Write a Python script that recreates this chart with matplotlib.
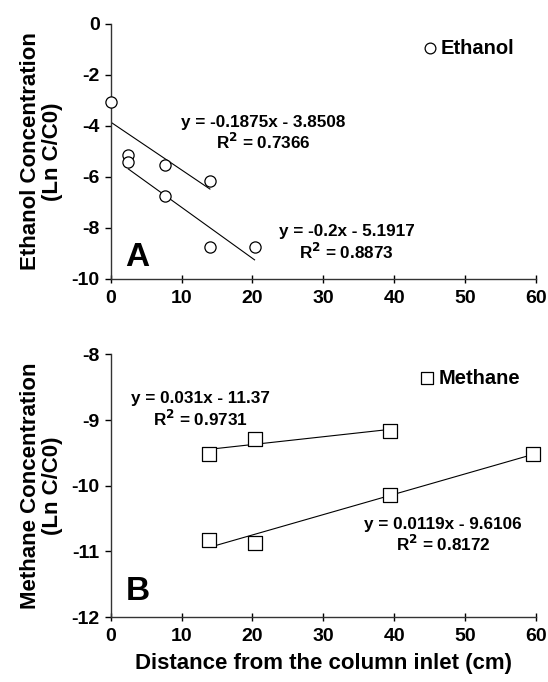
import numpy as np
import matplotlib.pyplot as plt

plt.rcParams['font.family'] = ['Liberation Sans', 'DejaVu Sans']
plt.rcParams['font.weight'] = 'bold'
plt.rcParams['axes.unicode_minus'] = False

# Ethanol data (distance cm, Ln C/C0)
eth_x = [0, 2.5, 2.5, 7.6, 14.0, 7.6, 14.0, 20.3]
eth_y = [-3.05, -5.14, -5.41, -5.52, -6.16, -6.74, -8.73, -8.76]
# Ethanol fits: slope, intercept, x range
eth_slope = [-0.1875, -0.2]
eth_icpt = [-3.8508, -5.1917]
eth_xrange = [(0, 14.0), (2.5, 20.3)]
eth_labels = ["y = -0.1875x - 3.8508\nR$^2$ = 0.7366", "y = -0.2x - 5.1917\nR$^2$ = 0.8873"]

# Methane data
met_x = [13.9, 20.3, 39.4, 13.9, 20.3, 39.4, 59.6]
met_y = [-9.51, -9.29, -9.16, -10.82, -10.88, -10.14, -9.51]
met_slope = [0.0119, 0.031]
met_icpt = [-9.6106, -11.37]
met_xrange = [(13.9, 39.4), (13.9, 59.6)]
met_labels = ["y = 0.031x - 11.37\nR$^2$ = 0.9731", "y = 0.0119x - 9.6106\nR$^2$ = 0.8172"]

fig = plt.figure(figsize=(5.48, 6.82), dpi=100)
ax1 = fig.add_axes([0.202, 0.591, 0.776, 0.374])
ax2 = fig.add_axes([0.202, 0.0953, 0.776, 0.385])

EQ_SIZE = 12.3
LAB_SIZE = 16


def style(ax, ylim, yticks):
    ax.set_xlim(0, 60)
    ax.set_ylim(*ylim)
    ax.set_xticks(range(0, 61, 10))
    ax.set_yticks(yticks)
    for s in ['top', 'right']:
        ax.spines[s].set_visible(False)
    for s in ['left', 'bottom']:
        ax.spines[s].set_linewidth(1.0)
        ax.spines[s].set_color('#333333')
    ax.tick_params(axis='x', direction='inout', length=6, width=1, labelsize=14, pad=5)
    ax.tick_params(axis='y', direction='out', length=4, width=1, labelsize=14, pad=4)
    for lab in ax.get_xticklabels() + ax.get_yticklabels():
        lab.set_fontweight('bold')


# Panel A
ax1.scatter(eth_x, eth_y, s=65, facecolors='white', edgecolors='black', linewidths=0.9, zorder=3, clip_on=False)
for m, b, (x0, x1) in zip(eth_slope, eth_icpt, eth_xrange):
    xs = np.array([x0, x1])
    ax1.plot(xs, m * xs + b, color='black', lw=0.8)
style(ax1, (-10, 0), range(-10, 1, 2))
ax1.text(21.5, -4.3, eth_labels[0], ha='center', va='center', fontsize=EQ_SIZE, fontweight='bold', linespacing=1.15)
ax1.text(33.3, -8.6, eth_labels[1], ha='center', va='center', fontsize=EQ_SIZE, fontweight='bold', linespacing=1.15)
ax1.text(2.1, -9.5, 'A', fontsize=24, fontweight='bold', ha='left', va='baseline')
ax1.scatter([45.0], [-0.95], s=60, facecolors='white', edgecolors='black', linewidths=0.9)
ax1.text(46.5, -0.95, 'Ethanol', fontsize=14.5, fontweight='bold', va='center', ha='left')
ax1.set_ylabel('Ethanol Concentration\n(Ln C/C0)', fontsize=LAB_SIZE, fontweight='bold', labelpad=6, linespacing=1.1)

# Panel B
ax2.scatter(met_x, met_y, s=95, marker='s', facecolors='white', edgecolors='black', linewidths=0.9, zorder=3, clip_on=False)
for m, b, (x0, x1) in zip(met_slope, met_icpt, met_xrange):
    xs = np.array([x0, x1])
    ax2.plot(xs, m * xs + b, color='black', lw=0.8)
style(ax2, (-12, -8), range(-12, -7, 1))
ax2.text(12.6, -8.85, met_labels[0], ha='center', va='center', fontsize=EQ_SIZE, fontweight='bold', linespacing=1.15)
ax2.text(46.9, -10.76, met_labels[1], ha='center', va='center', fontsize=EQ_SIZE, fontweight='bold', linespacing=1.15)
ax2.text(2.1, -11.74, 'B', fontsize=24, fontweight='bold', ha='left', va='baseline')
ax2.scatter([44.6], [-8.36], s=75, marker='s', facecolors='white', edgecolors='black', linewidths=0.9)
ax2.text(46.2, -8.36, 'Methane', fontsize=14.5, fontweight='bold', va='center', ha='left')
ax2.set_ylabel('Methane Concentration\n(Ln C/C0)', fontsize=LAB_SIZE, fontweight='bold', labelpad=6, linespacing=1.1)
ax2.set_xlabel('Distance from the column inlet (cm)', fontsize=LAB_SIZE, fontweight='bold', labelpad=6)

fig.savefig('out.png', dpi=100)
